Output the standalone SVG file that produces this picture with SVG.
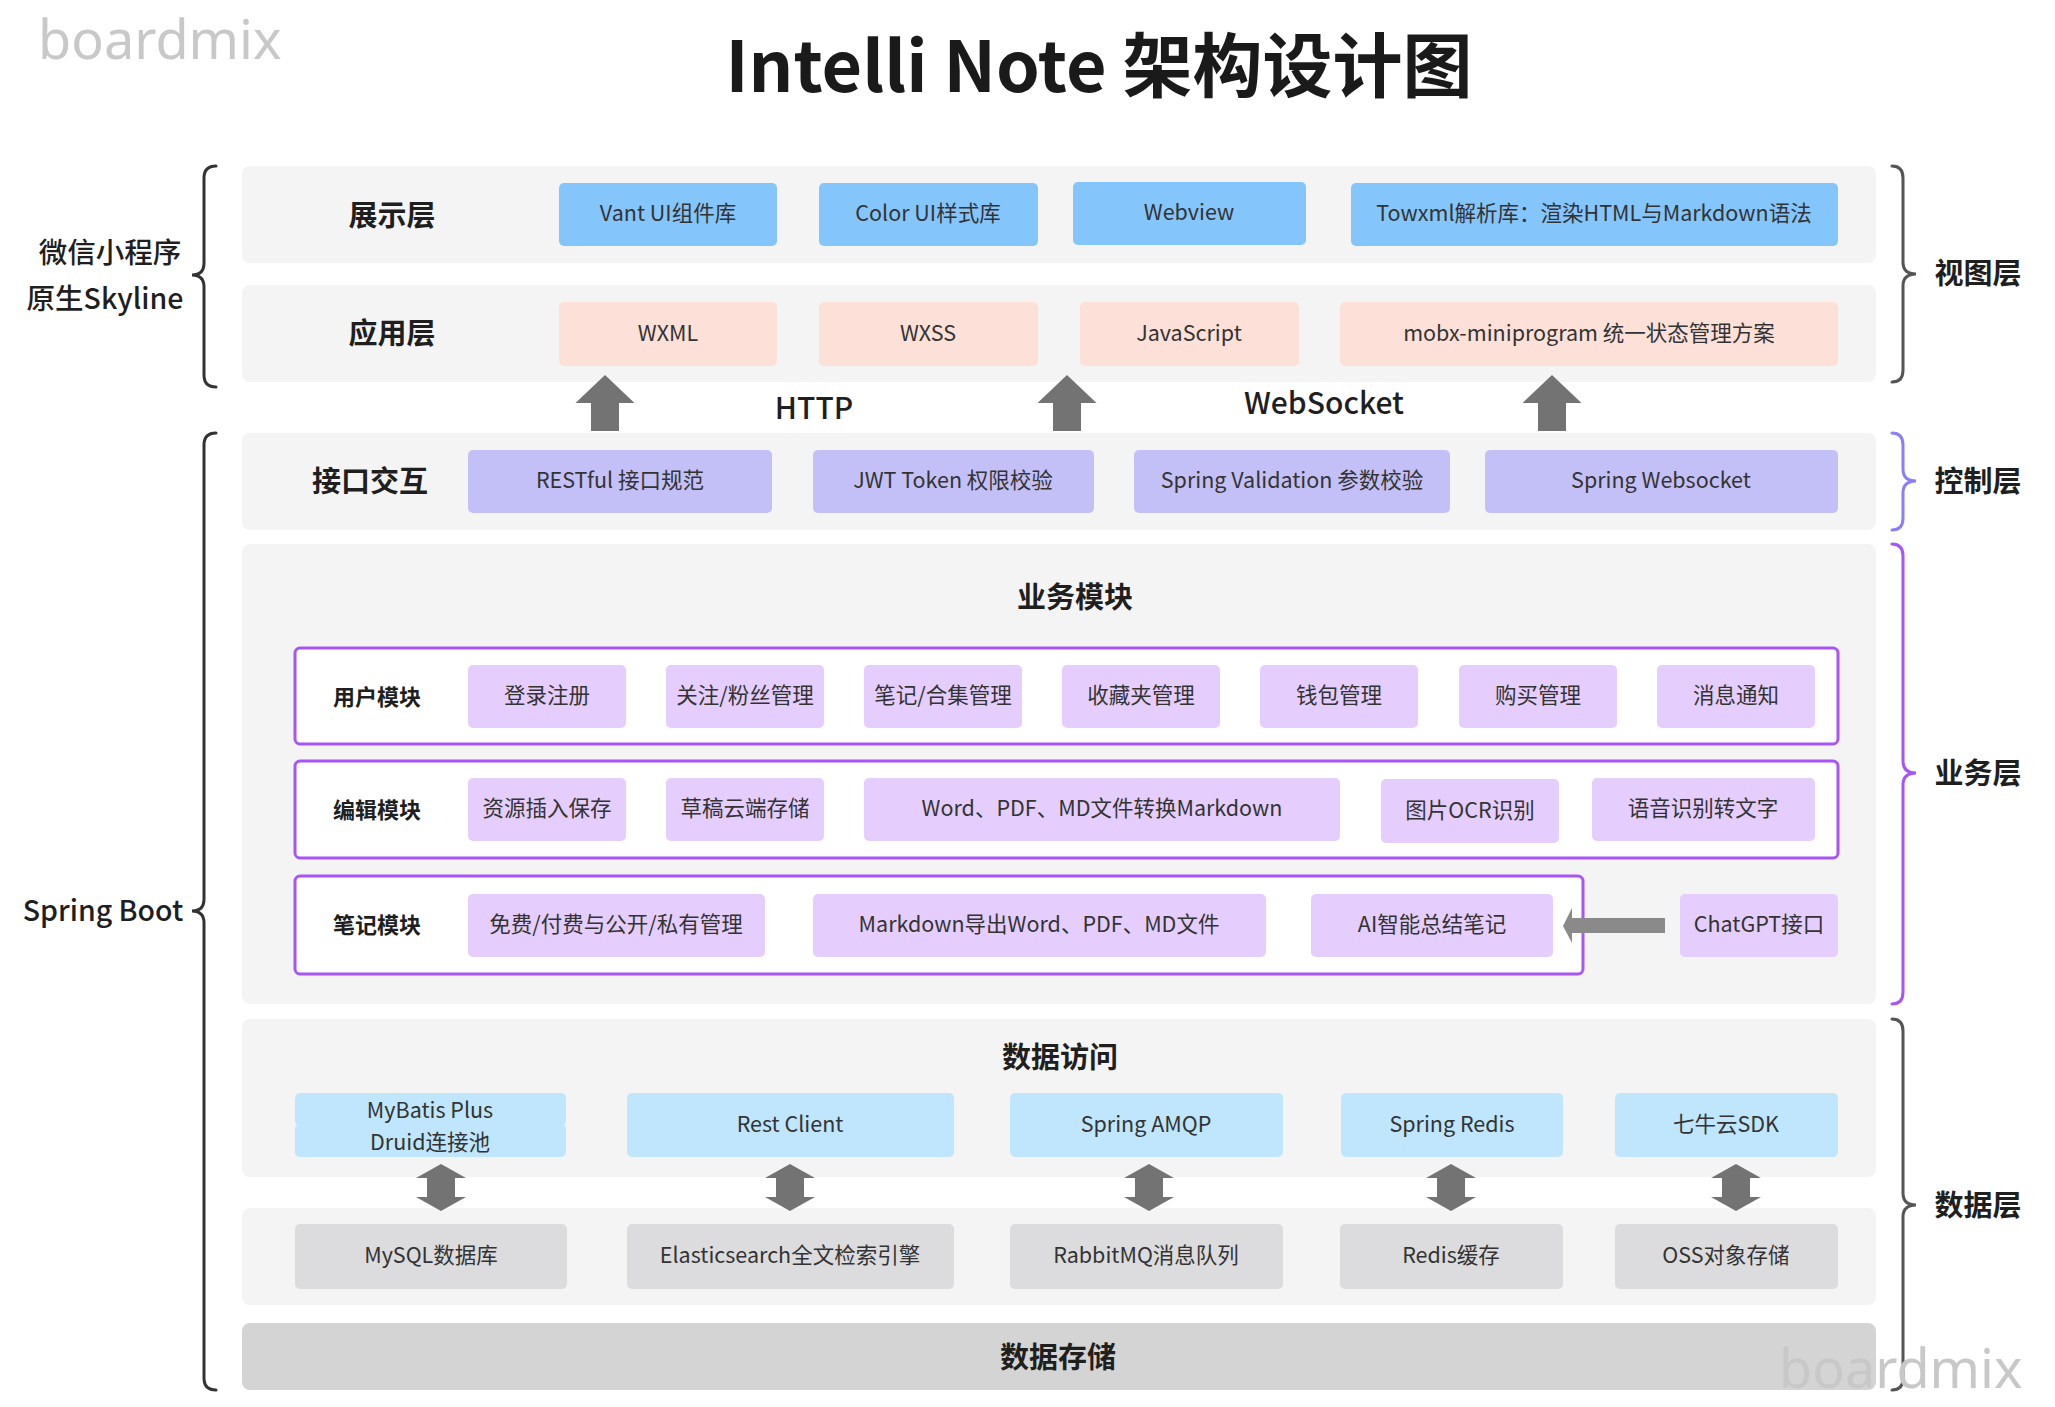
<svg xmlns="http://www.w3.org/2000/svg" width="2055" height="1407" viewBox="0 0 2055 1407">
<style>
text{font-family:"Noto Sans CJK SC","Noto Sans",sans-serif;text-anchor:middle;dominant-baseline:central;transform:translateY(-2.5px)}
.panel{fill:#f4f4f4}
.b1{fill:#84c5fc}
.b2{fill:#fde0d8}
.b3{fill:#c3c0f7}
.b4{fill:#e5cefd}
.b5{fill:#bfe6fd}
.b6{fill:#dcdcde}
.mod{fill:#ffffff;stroke:#a855f7;stroke-width:3}
.t{font-size:21.5px;fill:#333333}
.lay{font-size:29px;font-weight:bold;fill:#1f1f1f}
.ml{font-size:22px;font-weight:bold;fill:#1f1f1f}
.side{font-size:28.5px;font-weight:500;fill:#1f1f1f}
.proto{font-size:30px;font-weight:500;fill:#1f1f1f}
.arr{fill:#737373}
.brace{fill:none;stroke-width:3;stroke-linecap:round}
.wm{font-family:"Noto Sans","Noto Sans CJK SC",sans-serif;font-size:54px;fill:#c8c8c8;text-anchor:start;dominant-baseline:alphabetic;transform:none}
</style>
<rect width="2055" height="1407" fill="#ffffff"/>

<text x="1099" y="64" style="font-size:70px;font-weight:bold;fill:#1a1a1a">Intelli Note 架构设计图</text>

<!-- panels -->
<g id="panels">
<rect class="panel" x="242" y="166" width="1634" height="97" rx="8"/>
<rect class="panel" x="242" y="285" width="1634" height="97" rx="8"/>
<rect class="panel" x="242" y="433" width="1634" height="97" rx="8"/>
<rect class="panel" x="242" y="544" width="1634" height="460" rx="8"/>
<rect class="panel" x="242" y="1019" width="1634" height="158" rx="8"/>
<rect class="panel" x="242" y="1208" width="1634" height="97" rx="8"/>
<rect x="242" y="1323" width="1634" height="67" rx="8" fill="#d4d4d4"/>
</g>

<g id="labels">
<text class="lay" x="392" y="215">展示层</text>
<text class="lay" x="392" y="333">应用层</text>
<text class="lay" x="370" y="481">接口交互</text>
<text class="lay" x="1075" y="597">业务模块</text>
<text class="lay" x="1060" y="1057">数据访问</text>
<text class="lay" x="1058" y="1357">数据存储</text>
<text class="proto" x="814" y="408">HTTP</text>
<text class="proto" x="1324" y="403">WebSocket</text>
</g>

<!-- 展示层 -->
<g id="n-vant"><rect class="b1" x="559" y="183" width="218" height="63" rx="5"/><text class="t" x="668" y="214">Vant UI组件库</text></g>
<g id="n-colorui"><rect class="b1" x="819" y="183" width="219" height="63" rx="5"/><text class="t" x="928" y="214">Color UI样式库</text></g>
<g id="n-webview"><rect class="b1" x="1073" y="182" width="233" height="63" rx="5"/><text class="t" x="1189" y="213">Webview</text></g>
<g id="n-towxml"><rect class="b1" x="1351" y="183" width="487" height="63" rx="5"/><text class="t" x="1594" y="214">Towxml解析库：渲染HTML与Markdown语法</text></g>

<!-- 应用层 -->
<g id="n-wxml"><rect class="b2" x="559" y="302" width="218" height="64" rx="5"/><text class="t" x="668" y="334">WXML</text></g>
<g id="n-wxss"><rect class="b2" x="819" y="302" width="219" height="64" rx="5"/><text class="t" x="928" y="334">WXSS</text></g>
<g id="n-js"><rect class="b2" x="1080" y="302" width="219" height="64" rx="5"/><text class="t" x="1189" y="334">JavaScript</text></g>
<g id="n-mobx"><rect class="b2" x="1340" y="302" width="498" height="64" rx="5"/><text class="t" x="1589" y="334">mobx-miniprogram 统一状态管理方案</text></g>

<!-- 接口交互 -->
<g id="n-rest"><rect class="b3" x="468" y="450" width="304" height="63" rx="5"/><text class="t" x="620" y="481">RESTful 接口规范</text></g>
<g id="n-jwt"><rect class="b3" x="813" y="450" width="281" height="63" rx="5"/><text class="t" x="953" y="481">JWT Token 权限校验</text></g>
<g id="n-valid"><rect class="b3" x="1134" y="450" width="316" height="63" rx="5"/><text class="t" x="1292" y="481">Spring Validation 参数校验</text></g>
<g id="n-ws"><rect class="b3" x="1485" y="450" width="353" height="63" rx="5"/><text class="t" x="1661" y="481">Spring Websocket</text></g>

<!-- 用户模块 -->
<g id="m-user">
<rect class="mod" x="295" y="648" width="1543" height="96" rx="5"/>
<text class="ml" x="377" y="697">用户模块</text>
</g>
<g id="n-login"><rect class="b4" x="468" y="665" width="158" height="63" rx="5"/><text class="t" x="547" y="696">登录注册</text></g>
<g id="n-follow"><rect class="b4" x="666" y="665" width="158" height="63" rx="5"/><text class="t" x="745" y="696">关注/粉丝管理</text></g>
<g id="n-notes"><rect class="b4" x="864" y="665" width="158" height="63" rx="5"/><text class="t" x="943" y="696">笔记/合集管理</text></g>
<g id="n-fav"><rect class="b4" x="1062" y="665" width="158" height="63" rx="5"/><text class="t" x="1141" y="696">收藏夹管理</text></g>
<g id="n-wallet"><rect class="b4" x="1260" y="665" width="158" height="63" rx="5"/><text class="t" x="1339" y="696">钱包管理</text></g>
<g id="n-buy"><rect class="b4" x="1459" y="665" width="158" height="63" rx="5"/><text class="t" x="1538" y="696">购买管理</text></g>
<g id="n-msg"><rect class="b4" x="1657" y="665" width="158" height="63" rx="5"/><text class="t" x="1736" y="696">消息通知</text></g>

<!-- 编辑模块 -->
<g id="m-edit">
<rect class="mod" x="295" y="761" width="1543" height="97" rx="5"/>
<text class="ml" x="377" y="810">编辑模块</text>
</g>
<g id="n-res"><rect class="b4" x="468" y="778" width="158" height="63" rx="5"/><text class="t" x="547" y="809">资源插入保存</text></g>
<g id="n-draft"><rect class="b4" x="666" y="778" width="158" height="63" rx="5"/><text class="t" x="745" y="809">草稿云端存储</text></g>
<g id="n-conv"><rect class="b4" x="864" y="778" width="476" height="63" rx="5"/><text class="t" x="1102" y="809">Word、PDF、MD文件转换Markdown</text></g>
<g id="n-ocr"><rect class="b4" x="1381" y="779" width="178" height="64" rx="5"/><text class="t" x="1470" y="811">图片OCR识别</text></g>
<g id="n-voice"><rect class="b4" x="1592" y="778" width="223" height="63" rx="5"/><text class="t" x="1703" y="809">语音识别转文字</text></g>

<!-- 笔记模块 -->
<g id="m-note">
<rect class="mod" x="295" y="876" width="1288" height="98" rx="5"/>
<text class="ml" x="377" y="925">笔记模块</text>
</g>
<g id="n-free"><rect class="b4" x="468" y="894" width="297" height="63" rx="5"/><text class="t" x="616" y="925">免费/付费与公开/私有管理</text></g>
<g id="n-export"><rect class="b4" x="813" y="894" width="453" height="63" rx="5"/><text class="t" x="1039" y="925">Markdown导出Word、PDF、MD文件</text></g>
<g id="n-ai"><rect class="b4" x="1311" y="894" width="242" height="63" rx="5"/><text class="t" x="1432" y="925">AI智能总结笔记</text></g>
<g id="n-gpt"><rect class="b4" x="1680" y="894" width="158" height="63" rx="5"/><text class="t" x="1759" y="925">ChatGPT接口</text></g>

<!-- 数据访问 -->
<g id="n-mybatis">
<rect class="b5" x="295" y="1093" width="271" height="33" rx="5"/>
<rect class="b5" x="295" y="1124" width="271" height="33" rx="5"/>
<text class="t" x="430" y="1111">MyBatis Plus</text>
<text class="t" x="430" y="1143">Druid连接池</text>
</g>
<g id="n-restclient"><rect class="b5" x="627" y="1093" width="327" height="64" rx="5"/><text class="t" x="790" y="1125">Rest Client</text></g>
<g id="n-amqp"><rect class="b5" x="1010" y="1093" width="273" height="64" rx="5"/><text class="t" x="1146" y="1125">Spring AMQP</text></g>
<g id="n-sredis"><rect class="b5" x="1341" y="1093" width="222" height="64" rx="5"/><text class="t" x="1452" y="1125">Spring Redis</text></g>
<g id="n-qiniu"><rect class="b5" x="1615" y="1093" width="223" height="64" rx="5"/><text class="t" x="1726" y="1125">七牛云SDK</text></g>

<!-- 存储 -->
<g id="n-mysql"><rect class="b6" x="295" y="1224" width="272" height="65" rx="5"/><text class="t" x="431" y="1256">MySQL数据库</text></g>
<g id="n-es"><rect class="b6" x="627" y="1224" width="327" height="65" rx="5"/><text class="t" x="790" y="1256">Elasticsearch全文检索引擎</text></g>
<g id="n-rabbit"><rect class="b6" x="1010" y="1224" width="273" height="65" rx="5"/><text class="t" x="1146" y="1256">RabbitMQ消息队列</text></g>
<g id="n-redis"><rect class="b6" x="1340" y="1224" width="223" height="65" rx="5"/><text class="t" x="1451" y="1256">Redis缓存</text></g>
<g id="n-oss"><rect class="b6" x="1615" y="1224" width="223" height="65" rx="5"/><text class="t" x="1726" y="1256">OSS对象存储</text></g>

<!-- connectors -->
<g id="connectors">
<polygon class="arr" points="605,375 634.5,403 619,403 619,431 591,431 591,403 575.5,403"/>
<polygon class="arr" points="1067,375 1096.5,403 1081,403 1081,431 1053,431 1053,403 1037.5,403"/>
<polygon class="arr" points="1552,375 1581.5,403 1566,403 1566,431 1538,431 1538,403 1522.5,403"/>
<polygon points="1563,926 1572,908 1572,918 1665,918 1665,933 1572,933 1572,943" fill="#8a8a8a"/>
<polygon class="arr" points="441,1164 466,1178 455,1178 455,1197 466,1197 441,1211 416,1197 427,1197 427,1178 416,1178"/>
<polygon class="arr" points="790,1164 815,1178 804,1178 804,1197 815,1197 790,1211 765,1197 776,1197 776,1178 765,1178"/>
<polygon class="arr" points="1149,1164 1174,1178 1163,1178 1163,1197 1174,1197 1149,1211 1124,1197 1135,1197 1135,1178 1124,1178"/>
<polygon class="arr" points="1451,1164 1476,1178 1465,1178 1465,1197 1476,1197 1451,1211 1426,1197 1437,1197 1437,1178 1426,1178"/>
<polygon class="arr" points="1736,1164 1761,1178 1750,1178 1750,1197 1761,1197 1736,1211 1711,1197 1722,1197 1722,1178 1711,1178"/>
</g>

<!-- braces -->
<g id="braces">
<path class="brace" stroke="#333333" d="M216,166 Q204,166 204,178 L204,263 Q204,275 192,275 Q204,275 204,287 L204,375 Q204,387 216,387"/>
<path class="brace" stroke="#333333" d="M216,433 Q204,433 204,445 L204,899 Q204,911 192,911 Q204,911 204,923 L204,1378 Q204,1390 216,1390"/>
<path class="brace" stroke="#555555" d="M1892,166 Q1903,166 1903,178 L1903,262 Q1903,274 1916,274 Q1903,274 1903,286 L1903,370 Q1903,382 1892,382"/>
<path class="brace" stroke="#8b7ff5" d="M1892,433 Q1903,433 1903,445 L1903,469 Q1903,481 1916,481 Q1903,481 1903,493 L1903,518 Q1903,530 1892,530"/>
<path class="brace" stroke="#a855f7" d="M1892,544 Q1903,544 1903,556 L1903,761 Q1903,773 1916,773 Q1903,773 1903,785 L1903,992 Q1903,1004 1892,1004"/>
<path class="brace" stroke="#555555" d="M1892,1019 Q1903,1019 1903,1031 L1903,1193 Q1903,1205 1916,1205 Q1903,1205 1903,1217 L1903,1378 Q1903,1390 1892,1390"/>
</g>

<g id="side-labels">
<text class="side" x="110" y="253">微信小程序</text>
<text class="side" x="105" y="299">原生Skyline</text>
<text class="side" x="103" y="911">Spring Boot</text>
<text class="lay" x="1978" y="273">视图层</text>
<text class="lay" x="1978" y="481">控制层</text>
<text class="lay" x="1978" y="773">业务层</text>
<text class="lay" x="1978" y="1205">数据层</text>
</g>

<text class="wm" x="38" y="59">boardmix</text>
<text class="wm" x="1779" y="1388">boardmix</text>
</svg>
